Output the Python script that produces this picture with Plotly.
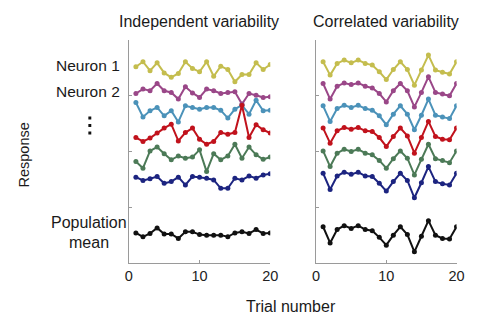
import plotly.graph_objects as go

trials = list(range(1, 21))

# Independent variability (left panel)
ind_n1 = [3.52,3.61,3.45,3.59,3.41,3.33,3.40,3.61,3.49,3.43,3.61,3.35,3.53,3.47,3.25,3.38,3.38,3.59,3.47,3.56]
ind_n2 = [3.04,3.12,3.09,3.22,3.09,3.06,2.94,3.16,3.05,2.97,3.12,3.09,3.04,3.06,3.07,2.85,3.04,3.01,2.97,2.98]
ind_n3 = [2.88,2.62,2.73,2.79,2.64,2.73,2.53,2.82,2.79,2.76,2.79,2.79,2.74,2.60,2.76,2.83,2.67,2.92,2.73,2.74]
ind_n4 = [2.25,2.18,2.24,2.33,2.42,2.49,2.19,2.34,2.42,2.22,2.13,2.18,2.34,2.31,2.34,2.83,2.25,2.48,2.39,2.33]
ind_n5 = [1.82,1.70,2.01,2.08,1.96,1.85,1.92,1.88,1.90,2.03,1.64,1.96,1.85,1.92,2.13,1.88,2.08,1.94,1.86,1.90]
ind_n6 = [1.54,1.48,1.51,1.55,1.43,1.46,1.54,1.40,1.55,1.54,1.52,1.49,1.34,1.34,1.52,1.49,1.56,1.52,1.58,1.60]
ind_mean = [0.54,0.47,0.53,0.63,0.52,0.52,0.44,0.56,0.56,0.51,0.50,0.50,0.50,0.47,0.54,0.56,0.53,0.60,0.53,0.54]

# Correlated variability (right panel)
cor_n1 = [3.61,3.37,3.58,3.64,3.59,3.64,3.58,3.55,3.43,3.29,3.47,3.61,3.47,3.19,3.46,3.73,3.46,3.42,3.39,3.61]
cor_n2 = [3.22,2.94,3.17,3.23,3.20,3.23,3.17,3.14,3.04,2.89,3.09,3.22,3.09,2.80,3.06,3.34,3.06,3.03,3.00,3.22]
cor_n3 = [2.82,2.54,2.77,2.83,2.79,2.83,2.77,2.74,2.64,2.48,2.67,2.82,2.67,2.39,2.65,2.94,2.65,2.62,2.59,2.82]
cor_n4 = [2.42,2.15,2.37,2.43,2.40,2.43,2.37,2.36,2.25,2.09,2.27,2.42,2.28,1.97,2.25,2.54,2.27,2.22,2.21,2.42]
cor_n5 = [2.01,1.73,1.97,2.04,2.00,2.04,1.97,1.94,1.84,1.70,1.87,2.01,1.88,1.58,1.86,2.13,1.87,1.84,1.80,2.01]
cor_n6 = [1.61,1.32,1.56,1.63,1.59,1.63,1.56,1.55,1.43,1.29,1.46,1.61,1.48,1.17,1.44,1.73,1.46,1.42,1.40,1.61]
cor_mean = [0.65,0.36,0.60,0.67,0.62,0.67,0.60,0.58,0.46,0.32,0.50,0.65,0.51,0.20,0.48,0.76,0.50,0.44,0.43,0.65]

colors = ["#c4bd4e", "#9a4788", "#4b92b9", "#c1121c", "#4c7a57", "#1c2480", "#111111"]
ind_series = [ind_n1, ind_n2, ind_n3, ind_n4, ind_n5, ind_n6, ind_mean]
cor_series = [cor_n1, cor_n2, cor_n3, cor_n4, cor_n5, cor_n6, cor_mean]

x_ticks = [0, 10, 20]
y_ticks = [0, 1, 2, 3, 4]

fig = go.Figure()
for ys, c in zip(ind_series, colors):
    fig.add_trace(go.Scatter(x=trials, y=ys, mode="lines+markers",
                             line=dict(color=c, width=2),
                             marker=dict(color=c, size=5),
                             xaxis="x", yaxis="y", showlegend=False))
for ys, c in zip(cor_series, colors):
    fig.add_trace(go.Scatter(x=trials, y=ys, mode="lines+markers",
                             line=dict(color=c, width=2),
                             marker=dict(color=c, size=5),
                             xaxis="x2", yaxis="y2", showlegend=False))

W, H = 485, 334
FONT = "Liberation Sans, Arial, Helvetica, sans-serif"
axis_common = dict(showline=True, linecolor="#9a9a9a", linewidth=1, showgrid=False,
                   zeroline=False, ticks="inside", ticklen=3, tickcolor="#9a9a9a",
                   tickfont=dict(family=FONT, size=14.5, color="#222"))

ydom = [(H - 263) / H, (H - 40) / H]
fig.update_layout(
    width=W, height=H, margin=dict(l=0, r=0, t=0, b=0),
    paper_bgcolor="white", plot_bgcolor="white",
    xaxis=dict(domain=[128 / W, 273 / W], range=[0, 20], tickvals=x_ticks, anchor="y", **axis_common),
    yaxis=dict(domain=ydom, range=[0, 4], tickvals=y_ticks, showticklabels=False, anchor="x", **axis_common),
    xaxis2=dict(domain=[320 / W, 464 / W], range=[0, 20], tickvals=x_ticks, anchor="y2", **axis_common),
    yaxis2=dict(domain=ydom, range=[0, 4], tickvals=y_ticks, showticklabels=False, anchor="x2", **axis_common),
)

def px(xp, yp):
    return xp / W, 1 - yp / H

annots = [
    ("Independent variability", 200, 22, "center", 0, 16),
    ("Correlated variability", 392, 22, "center", 0, 16),
    ("Trial number", 294, 306, "center", 0, 16),
    ("Neuron 1", 121, 65, "right", 0, 15.5),
    ("Neuron 2", 121, 91, "right", 0, 15.5),
    ("Population", 87, 222, "center", 0, 16),
    ("mean", 87, 242, "center", 0, 16),
    ("Response", 21, 155, "center", -90, 14.5),
]
for text, xp, yp, align, ang, size in annots:
    ax, ay = px(xp, yp)
    xanchor = "right" if align == "right" else "center"
    fig.add_annotation(text=text, x=ax, y=ay, xref="paper", yref="paper",
                       xanchor=xanchor, yanchor="middle", showarrow=False,
                       textangle=ang, font=dict(family=FONT, size=size, color="#1a1a1a"))

# vertical ellipsis
for yp in [118, 125.5, 133]:
    ax, ay = px(88, yp)
    fig.add_shape(type="rect", xref="paper", yref="paper",
                  x0=ax - 1.5 / W, x1=ax + 1.5 / W, y0=ay - 1.5 / H, y1=ay + 1.5 / H,
                  fillcolor="#111", line=dict(width=0))

fig.write_html("out.html")
